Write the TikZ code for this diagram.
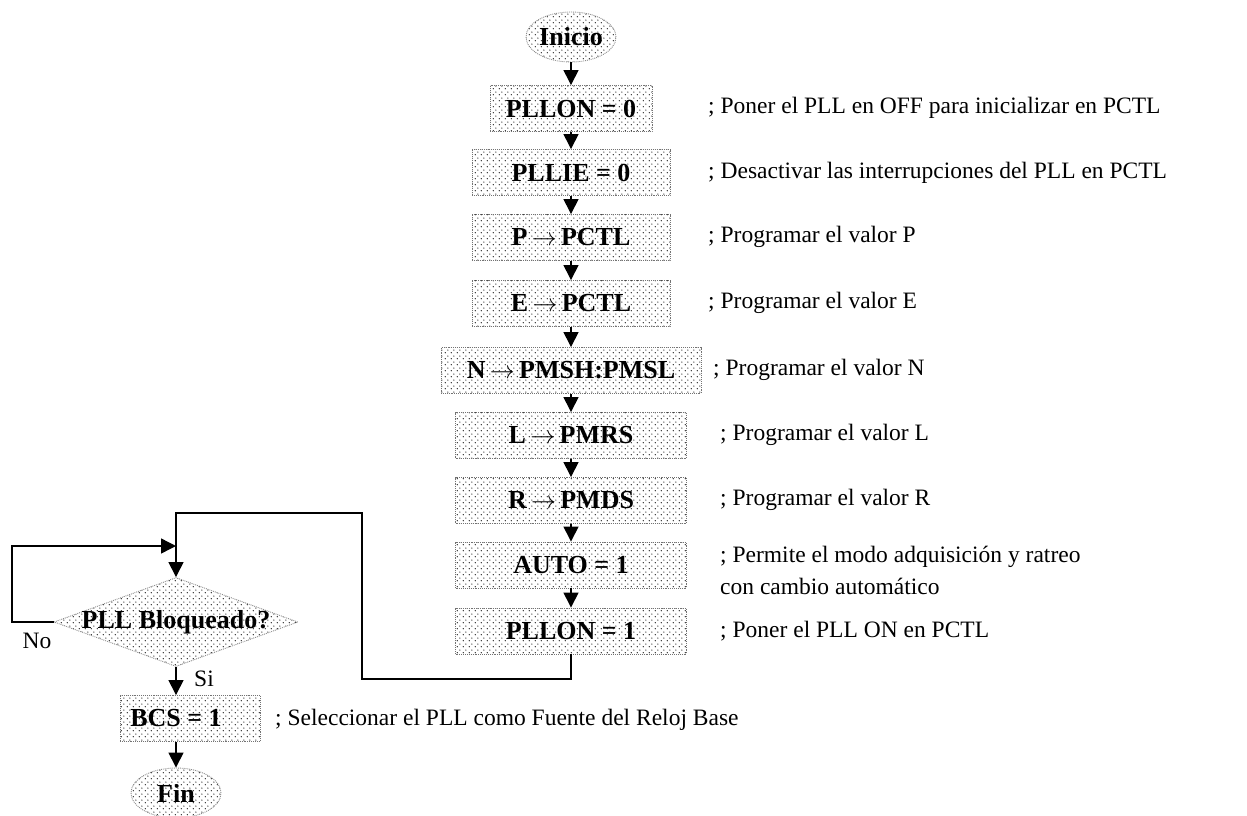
\documentclass[tikz,border=0pt]{standalone}
\usepackage{fontspec}
\setmainfont{Liberation Serif}
\usetikzlibrary{arrows.meta,shapes.geometric,patterns}
\pgfdeclarepatternformonly{mydots}{\pgfqpoint{0pt}{0pt}}{\pgfqpoint{6pt}{6pt}}{\pgfqpoint{6pt}{6pt}}{%
  \pgfpathcircle{\pgfqpoint{1.5pt}{1.5pt}}{0.7pt}%
  \pgfpathcircle{\pgfqpoint{4.5pt}{4.5pt}}{0.7pt}%
  \pgfusepath{fill}}
\newcommand{\rarr}{\,$\rightarrow$\,}
\begin{document}
\begin{tikzpicture}[x=1pt,y=-1pt,
  lblfont/.style={font=\fontsize{26}{30}\selectfont\bfseries},
  box/.style={rectangle, pattern=mydots, draw=black!55, densely dotted, line width=0.9pt,
    inner sep=0pt, minimum height=46pt, lblfont},
  term/.style={ellipse, pattern=mydots, draw=black!45, densely dotted, line width=0.9pt,
    minimum width=90pt, minimum height=50pt, inner sep=0pt, lblfont},
  dia/.style={diamond, pattern=mydots, draw=black!45, densely dotted, line width=0.9pt,
    minimum width=244pt, minimum height=89pt, inner sep=0pt, aspect=2.74},
  cmt/.style={inner sep=0pt, font=\fontsize{23.5}{32}\selectfont, align=left},
  arr/.style={line width=1.4pt, -{Triangle[length=15pt,width=15pt]}},
]
\useasboundingbox (0,0) rectangle (1247,816);

% main column
\node[term] (ini) at (571,37) {Inicio};
\node[box, minimum width=162pt] (b1) at (571,108.5) {PLLON = 0};
\node[box, minimum width=198pt] (b2) at (571,172.5) {PLLIE = 0};
\node[box, minimum width=198pt] (b3) at (571,237.5) {P\rarr PCTL};
\node[box, minimum width=198pt] (b4) at (571,303.5) {E\rarr PCTL};
\node[box, minimum width=260pt] (b5) at (571,370.5) {N\rarr PMSH:PMSL};
\node[box, minimum width=231pt] (b6) at (571,435.5) {L\rarr PMRS};
\node[box, minimum width=231pt] (b7) at (571,500.5) {R\rarr PMDS};
\node[box, minimum width=231pt] (b8) at (571,565) {AUTO = 1};
\node[box, minimum width=231pt] (b9) at (571,631) {PLLON = 1};

% left column
\node[dia] (d) at (176,622) {};
\node[lblfont, inner sep=0pt] (dt) at (d) {PLL Bloqueado?};
\node[box, minimum width=140pt] (bcs) at (190,718.5) {BCS = 1\hspace*{28pt}};
\node[term] (fin) at (176,793) {Fin};

% comments
\node[cmt, anchor=mid west] (c1) at (708,111) {; Poner el PLL en OFF para inicializar en PCTL};
\node[cmt, anchor=mid west] (c2) at (708,176) {; Desactivar las interrupciones del PLL en PCTL};
\node[cmt, anchor=mid west] (c3) at (708,240) {; Programar el valor P};
\node[cmt, anchor=mid west] (c4) at (708,306) {; Programar el valor E};
\node[cmt, anchor=mid west] (c5) at (713,373) {; Programar el valor N};
\node[cmt, anchor=mid west] (c6) at (720,438) {; Programar el valor L};
\node[cmt, anchor=mid west] (c7) at (720,503) {; Programar el valor R};
\node[cmt, anchor=west] (c8) at (720,570) {; Permite el modo adquisición y ratreo\\con cambio automático};
\node[cmt, anchor=mid west] (c9) at (720,635) {; Poner el PLL ON en PCTL};
\node[cmt, anchor=mid west] (c10) at (275,723) {; Seleccionar el PLL como Fuente del Reloj Base};
\node[cmt] (no) at (37,641) {No};
\node[cmt] (si) at (204,679) {Si};

% connectors main column
\draw[arr] (ini) -- (b1);
\draw[arr] (b1) -- (b2);
\draw[arr] (b2) -- (b3);
\draw[arr] (b3) -- (b4);
\draw[arr] (b4) -- (b5);
\draw[arr] (b5) -- (b6);
\draw[arr] (b6) -- (b7);
\draw[arr] (b7) -- (b8);
\draw[arr] (b8) -- (b9);

% loop back to decision
\coordinate (p1) at (362,679);
\coordinate (p2) at (362,513);
\coordinate (p3) at (176,513);
\draw[arr] (b9.south) |- (p1) -- (p2) -- (p3) -- (d.north);

% No branch
\coordinate (n1) at (12,622);
\coordinate (n2) at (12,546);
\coordinate (n3) at (176,546);
\draw[arr] (d.west) -- (n1) -- (n2) -- (n3);

% Si branch
\draw[arr] (d.south) -- (d.south |- bcs.north);
\draw[arr] (fin |- bcs.south) -- (fin.north);
\end{tikzpicture}
\end{document}
